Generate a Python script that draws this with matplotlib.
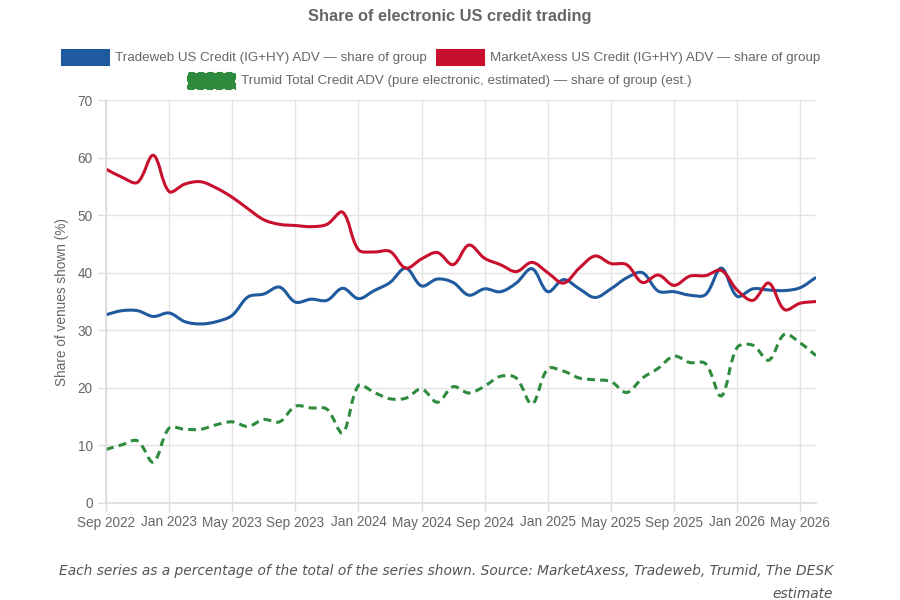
import matplotlib
matplotlib.use("Agg")
import matplotlib.pyplot as plt
import numpy as np
from matplotlib.path import Path
from matplotlib.patches import PathPatch, Rectangle

plt.rcParams['font.family'] = ['Liberation Sans', 'DejaVu Sans']

tick_labels = ["Sep 2022", "Jan 2023", "May 2023", "Sep 2023", "Jan 2024", "May 2024",
               "Sep 2024", "Jan 2025", "May 2025", "Sep 2025", "Jan 2026", "May 2026"]

tradeweb = [32.7, 33.4, 33.4, 32.4, 33.0, 31.5, 31.1, 31.5, 32.6, 35.8, 36.3, 37.5,
            34.9, 35.4, 35.2, 37.3, 35.5, 36.9, 38.3, 40.8, 37.7, 38.9, 38.3, 36.1,
            37.2, 36.7, 38.2, 40.7, 36.7, 38.8, 37.2, 35.7, 37.2, 39.1, 40.0, 36.8,
            36.7, 36.1, 36.2, 40.8, 35.9, 37.2, 37.0, 36.9, 37.4, 39.2]
marketaxess = [58.0, 56.6, 55.7, 60.4, 54.1, 55.4, 55.8, 54.7, 53.1, 51.1, 49.2, 48.4,
               48.2, 48.0, 48.4, 50.5, 44.0, 43.6, 43.7, 40.8, 42.4, 43.5, 41.4, 44.8,
               42.5, 41.4, 40.2, 41.8, 40.0, 38.2, 40.8, 42.9, 41.6, 41.4, 38.3, 39.6,
               37.8, 39.4, 39.5, 40.4, 37.0, 35.2, 38.2, 33.6, 34.7, 35.0]
trumid = [9.3, 10.1, 10.8, 7.1, 13.0, 12.8, 12.8, 13.6, 14.1, 13.3, 14.5, 14.1,
          16.8, 16.5, 16.3, 12.2, 20.4, 19.2, 18.1, 18.2, 19.8, 17.5, 20.2, 19.1,
          20.3, 22.0, 21.7, 17.2, 23.3, 22.9, 21.7, 21.4, 21.1, 19.2, 21.7, 23.4,
          25.5, 24.4, 24.2, 18.6, 27.0, 27.4, 24.8, 29.3, 27.8, 25.6]

labels = ["Tradeweb US Credit (IG+HY) ADV \u2014 share of group",
          "MarketAxess US Credit (IG+HY) ADV \u2014 share of group",
          "Trumid Total Credit ADV (pure electronic, estimated) \u2014 share of group (est.)"]
colors = ["#1f5a9e", "#c8102e", "#2e8b3e"]

W, H = 900, 600
fig = plt.figure(figsize=(9, 6), dpi=100)
ax = fig.add_axes([106 / W, 1 - 503 / H, (816 - 106) / W, (503 - 100) / H])

n = len(tradeweb)
x = np.arange(n)
ax.set_xlim(0, n - 1)
ax.set_ylim(0, 70)
ax.set_yticks(np.arange(0, 71, 10))
ax.set_xticks(np.arange(0, 4 * len(tick_labels), 4))
ax.set_xticklabels(tick_labels)
ax.grid(True, color="#e4e4e4", lw=1)
ax.set_axisbelow(True)
for s in ["top", "right"]:
    ax.spines[s].set_visible(False)
for s in ["left", "bottom"]:
    ax.spines[s].set_color("#dcdcdc")
    ax.spines[s].set_linewidth(1.2)
ax.tick_params(axis="both", colors="#dcdcdc", labelcolor="#666666", labelsize=9.8, length=6, width=1)
ax.tick_params(axis="x", pad=3)
ax.set_ylabel("Share of venues shown (%)", color="#666666", fontsize=9.8, labelpad=6)


def smooth_path(xs, ys, tension=0.35):
    pts = ax.transData.transform(np.column_stack([xs, ys]))
    m = len(pts)
    verts = [pts[0]]
    codes = [Path.MOVETO]
    cps = []
    for i in range(m):
        prev = pts[i - 1] if i > 0 else pts[i]
        nxt = pts[i + 1] if i < m - 1 else pts[i]
        cur = pts[i]
        d01 = np.hypot(*(cur - prev))
        d12 = np.hypot(*(nxt - cur))
        tot = d01 + d12
        fa = tension * d01 / tot if tot else 0
        fb = tension * d12 / tot if tot else 0
        cps.append((cur - fa * (nxt - prev), cur + fb * (nxt - prev)))
    for i in range(m - 1):
        verts += [cps[i][1], cps[i + 1][0], pts[i + 1]]
        codes += [Path.CURVE4] * 3
    verts = ax.transData.inverted().transform(np.array(verts))
    return Path(verts, codes)


series = [tradeweb, marketaxess, trumid]
styles = ["-", "-", (0, (2.6, 1.7))]
for ys, c, ls in zip(series, colors, styles):
    p = smooth_path(x, ys)
    ax.add_patch(PathPatch(p, facecolor="none", edgecolor=c, lw=2.2, linestyle=ls,
                           capstyle="butt", joinstyle="round"))

# title
fig.text(450 / W, 1 - 17 / H, "Share of electronic US credit trading", ha="center", va="center",
         fontsize=11.8, fontweight="bold", color="#666666")

# legend
def legend_item(x0, yc, color, text, dashed=False):
    rect = Rectangle((x0 / W, 1 - (yc + 7.5) / H), 47 / W, 15 / H, transform=fig.transFigure,
                     facecolor=color, edgecolor=color, lw=1.5,
                     linestyle=(0, (3, 1.5)) if dashed else "-")
    fig.patches.append(rect)
    fig.text((x0 + 53) / W, 1 - yc / H, text, ha="left", va="center", fontsize=9.6, color="#666666")

legend_item(62, 57.5, colors[0], labels[0])
legend_item(437, 57.5, colors[1], labels[1])
legend_item(188, 81, colors[2], labels[2], dashed=True)

# caption
cap_font = dict(ha="right", va="center", fontsize=9.9, style="italic", color="#555555",
                family="DejaVu Sans")
fig.text(833 / W, 1 - 571 / H,
         "Each series as a percentage of the total of the series shown. Source: MarketAxess, Tradeweb, Trumid, The DESK",
         **cap_font)
fig.text(833 / W, 1 - 594 / H, "estimate", **cap_font)

fig.savefig("out.png", dpi=100)
